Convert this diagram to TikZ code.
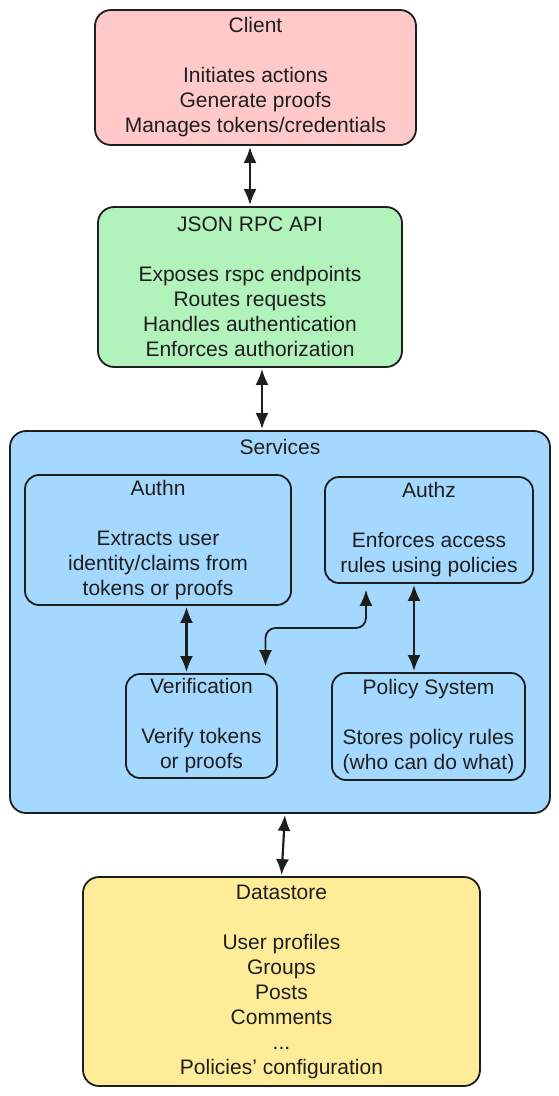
\documentclass[tikz,border=0pt]{standalone}
\usepackage{fontspec}
\setmainfont{Liberation Sans}
\usetikzlibrary{arrows.meta}

\definecolor{ink}{HTML}{1E1E1E}
\definecolor{clientred}{HTML}{FFC9C9}
\definecolor{apigreen}{HTML}{B2F2BB}
\definecolor{serviceblue}{HTML}{A5D8FF}
\definecolor{storeyellow}{HTML}{FFEC99}

\begin{document}
\begin{tikzpicture}[<->,>={Latex[length=16pt,width=13pt]},shorten >=1pt,shorten <=1pt,
        x=1pt,y=1pt]
    \tikzstyle{box}=[draw=ink,text=ink,line width=1.8pt,rounded corners=16pt,
        align=center,inner sep=0pt,font=\fontsize{21}{25}\selectfont]
    \tikzstyle{inner box}=[box,fill=serviceblue,rounded corners=14pt]
    \tikzstyle{every edge}=[draw=ink,line width=2.2pt]

    \useasboundingbox (0,0) rectangle (559,-1096);

    \node[box,fill=clientred,minimum width=321,minimum height=135] (client)
        at (255.5,-77.5) {Client\\[25pt]Initiates actions\\Generate proofs\\Manages tokens/credentials};
    \node[box,fill=apigreen,minimum width=304,minimum height=160] (api)
        at (250,-287) {JSON RPC API\\[25pt]Exposes rspc endpoints\\Routes requests\\Handles authentication\\Enforces authorization};
    \node[box,fill=serviceblue,minimum width=540,minimum height=382] (services)
        at (280,-622) {};
    \node[text=ink,font=\fontsize{21}{25}\selectfont] (servicestitle)
        at (280,-447) {Services};

    \node[inner box,minimum width=266,minimum height=130] (authn)
        at (158,-540) {Authn\\[25pt]Extracts user\\identity/claims from\\tokens or proofs};
    \node[inner box,minimum width=208,minimum height=106] (authz)
        at (429,-530) {Authz\\[25pt]Enforces access\\rules using policies};
    \node[inner box,minimum width=151,minimum height=104] (verif)
        at (201.5,-726) {Verification\\[25pt]Verify tokens\\or proofs};
    \node[inner box,minimum width=193,minimum height=107] (policy)
        at (428.5,-726.5) {Policy System\\[25pt]Stores policy rules\\(who can do what)};

    \node[box,fill=storeyellow,minimum width=397,minimum height=209] (store)
        at (281.5,-981.5) {Datastore\\[25pt]User profiles\\Groups\\Posts\\Comments\\...\\Policies' configuration};

    \coordinate (bend) at (366,-628);

    \path (api.north |- client.south) edge (api.north)
          ([xshift=12pt]api.south) edge ([xshift=12pt]api.south |- services.north)
          ([xshift=-15pt]verif.north |- authn.south) edge ([xshift=-15pt]verif.north)
          ([xshift=-15pt]authz.south) edge ([xshift=-15pt]authz.south |- policy.north)
          ([xshift=5pt]services.south) edge (store.north);

    \draw[draw=ink,line width=1.8pt,rounded corners=10pt]
        ([yshift=6pt]verif.north) ++(64pt,0) |- (bend) -- ([yshift=-5pt]bend |- authz.south);
\end{tikzpicture}
\end{document}
